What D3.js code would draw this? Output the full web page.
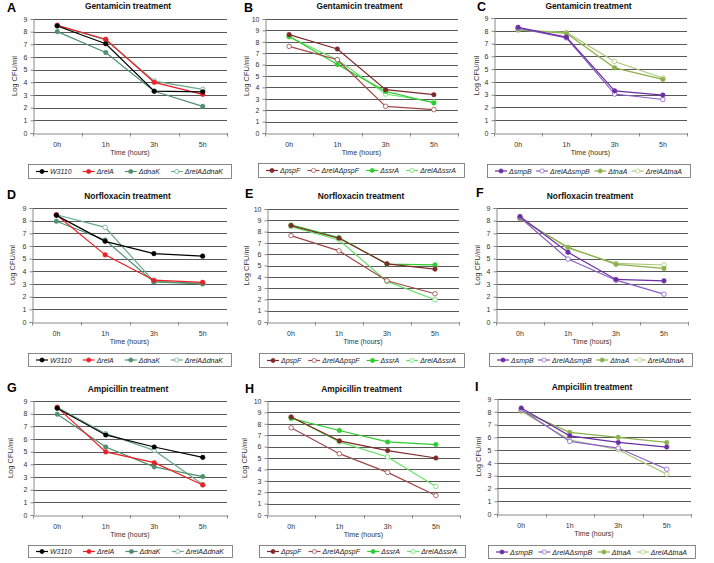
<!DOCTYPE html>
<html><head><meta charset="utf-8">
<script src="https://cdn.jsdelivr.net/npm/d3@7"></script>
<style>
body{margin:0;background:#fff;}
svg{display:block;font-family:"Liberation Sans",Arial,sans-serif;}
</style></head>
<body>
<script>
// ---------- data ----------
const timeLabels = ["0h", "1h", "3h", "5h"];
const panelLetters = ["A","B","C","D","E","F","G","H","I"];
const panelTitles = ["Gentamicin treatment","Gentamicin treatment","Gentamicin treatment",
  "Norfloxacin treatment","Norfloxacin treatment","Norfloxacin treatment",
  "Ampicillin treatment","Ampicillin treatment","Ampicillin treatment"];
const yMaxes = [9, 10, 9, 9, 10, 9, 9, 10, 9];

const strainsCol1 = ["W3110", "ΔrelA", "ΔdnaK", "ΔrelAΔdnaK"];
const strainsCol2 = ["ΔpspF", "ΔrelAΔpspF", "ΔssrA", "ΔrelAΔssrA"];
const strainsCol3 = ["ΔsmpB", "ΔrelAΔsmpB", "ΔtnaA", "ΔrelAΔtnaA"];

const colorsCol1 = ["#000000", "#ee1c24", "#4f9070", "#6aa98a"];
const colorsCol2 = ["#7f2a2a", "#a04848", "#2ecc2e", "#66e066"];
const colorsCol3 = ["#6a2fa3", "#8a5cc6", "#8cb04c", "#a9c97a"];
const hollowCol1 = [false, false, false, true];
const hollowCol2 = [false, true, false, true];
const hollowCol3 = [false, true, false, true];

// values per panel: one row per strain, columns = 0h,1h,3h,5h (log CFU/ml)
const valuesA = [[8.45,7.05,3.3,3.25],[8.5,7.4,4.0,3.05],[8.0,6.35,3.3,2.1],[8.5,7.35,4.1,3.45]];
const valuesB = [[8.63,7.37,3.8,3.36],[7.6,6.43,2.34,2.05],[8.48,6.0,3.65,2.63],[8.42,6.43,3.42,2.72]];
const valuesC = [[8.27,7.5,3.3,2.97],[8.2,7.45,3.05,2.62],[8.08,7.8,5.1,4.2],[8.05,7.87,5.6,4.3]];
const valuesD = [[8.42,6.37,5.4,5.2],[8.47,5.3,3.3,3.13],[7.95,6.47,3.16,3.0],[8.47,7.47,3.2,3.05]];
const valuesE = [[8.53,7.41,5.15,4.68],[7.65,6.29,3.65,2.5],[8.59,7.47,5.12,5.06],[8.44,7.26,3.59,1.97]];
const valuesF = [[8.33,5.5,3.36,3.25],[8.25,4.97,3.3,2.2],[8.15,5.9,4.55,4.23],[8.2,5.82,4.63,4.5]];
const valuesG = [[8.42,6.32,5.37,4.55],[8.5,4.98,4.13,2.37],[7.95,5.37,3.8,3.03],[8.5,6.42,5.1,2.4]];
const valuesH = [[8.59,6.5,5.65,5.0],[7.65,5.38,3.74,1.71],[8.47,7.41,6.41,6.18],[8.59,6.41,5.09,2.5]];
const valuesI = [[8.29,6.12,5.6,5.24],[8.17,5.68,5.16,3.5],[8.09,6.39,6.0,5.6],[8.04,5.81,5.03,3.12]];
const panelValues = [valuesA,valuesB,valuesC,valuesD,valuesE,valuesF,valuesG,valuesH,valuesI];

// ---------- layout (pixel positions only) ----------
const plotBoxes = [
  {x0:33,x1:227,y0:19,y1:133},{x0:265,x1:458,y0:19,y1:133},{x0:494,x1:687,y0:18,y1:133},
  {x0:32,x1:227,y0:208,y1:322},{x0:267,x1:459,y0:209,y1:322},{x0:496,x1:688,y0:208,y1:322},
  {x0:33,x1:227,y0:401,y1:515},{x0:267,x1:460,y0:401,y1:515},{x0:497,x1:691,y0:399,y1:514}];
const legendBoxes = [
  {x0:28,x1:231,y0:164,y1:178},{x0:258,x1:464,y0:163,y1:177},{x0:487,x1:690,y0:164,y1:177},
  {x0:28,x1:231,y0:353,y1:366},{x0:259,x1:464,y0:353,y1:367},{x0:489,x1:692,y0:353,y1:366},
  {x0:28,x1:232,y0:545,y1:557},{x0:259,x1:465,y0:545,y1:557},{x0:488,x1:695,y0:545,y1:558}];
const letterPos = [[7,12],[244,12],[477,11],[7,198.5],[245,198],[476,197],[7,392],[245,393],[475,391]];
const titleBase = [8.5,8.5,8.5,198.5,198.5,198.5,392,392,389.5];
const yLabelX = [15,247,477,13,247,478,11,245,479];

const svg = d3.select("body").append("svg").attr("width",714).attr("height",563);
svg.append("rect").attr("width",714).attr("height",563).attr("fill","#fff");

panelValues.forEach((vals, i) => {
  const col = i % 3;
  const strains = [strainsCol1, strainsCol2, strainsCol3][col];
  const colors = [colorsCol1, colorsCol2, colorsCol3][col];
  const hollow = [hollowCol1, hollowCol2, hollowCol3][col];
  const P = plotBoxes[i], Lb = legendBoxes[i];
  const yMax = yMaxes[i];
  const x = d3.scaleBand().domain(timeLabels).range([P.x0, P.x1]);
  const y = d3.scaleLinear().domain([0, yMax]).range([P.y1, P.y0]);
  const g = svg.append("g");

  // gridlines
  g.selectAll("line.grid").data(d3.range(1, yMax + 1)).join("line")
    .attr("x1", P.x0).attr("x2", P.x1)
    .attr("y1", d => Math.round(y(d)) + 0.5).attr("y2", d => Math.round(y(d)) + 0.5)
    .attr("stroke", "#585858").attr("stroke-width", 1.1);

  // y axis
  const ya = g.append("g").attr("transform", `translate(${P.x0 + 0.5},0)`)
    .call(d3.axisLeft(y).ticks(yMax).tickSize(3).tickPadding(3).tickFormat(d3.format("d")));
  // x axis
  const xa = g.append("g").attr("transform", `translate(0,${P.y1 + 0.5})`)
    .call(d3.axisBottom(x).tickSize(0).tickPadding(9));
  [ya, xa].forEach(a => {
    a.select(".domain").attr("stroke", "#8a8a8a");
    a.selectAll(".tick line").attr("stroke", "#8a8a8a");
    a.selectAll("text").attr("fill", "#333").style("font-size", "7px")
      .style("font-family", "Liberation Sans, Arial, sans-serif");
  });
  // x boundary ticks
  g.selectAll("line.xb").data(timeLabels.map(d => x(d)).concat([P.x1])).join("line")
    .attr("x1", d => Math.round(d) + 0.5).attr("x2", d => Math.round(d) + 0.5)
    .attr("y1", P.y1).attr("y2", P.y1 + 3.5).attr("stroke", "#8a8a8a");

  // axis titles
  g.append("text").attr("x", (P.x0 + P.x1) / 2).attr("y", P.y1 + 22)
    .attr("text-anchor", "middle").attr("fill", "#333").style("font-size", "7px").text("Time (hours)");
  g.append("text").attr("transform", `translate(${yLabelX[i]},${(P.y0 + P.y1) / 2}) rotate(-90)`)
    .attr("text-anchor", "middle").attr("dominant-baseline", "middle")
    .attr("fill", "#333").style("font-size", "7.5px").text("Log CFU/ml");

  // title & letter
  g.append("text").attr("x", (P.x0 + P.x1) / 2 - 2).attr("y", titleBase[i])
    .attr("text-anchor", "middle").attr("font-weight", "bold").attr("fill", "#111")
    .style("font-size", "8.4px").text(panelTitles[i]);
  g.append("text").attr("x", letterPos[i][0]).attr("y", letterPos[i][1])
    .attr("font-weight", "bold").attr("fill", "#000").style("font-size", "12.5px").text(panelLetters[i]);

  // series (drawn last-to-first so filled markers sit on top)
  const line = d3.line().x((d, k) => x(timeLabels[k]) + x.bandwidth() / 2).y(d => y(d));
  d3.range(vals.length).reverse().forEach(si => {
    const s = vals[si];
    g.append("path").attr("d", line(s)).attr("fill", "none")
      .attr("stroke", colors[si]).attr("stroke-width", 1.2);
    g.selectAll(null).data(s).join("circle")
      .attr("cx", (d, k) => x(timeLabels[k]) + x.bandwidth() / 2).attr("cy", d => y(d))
      .attr("r", 2.3)
      .attr("fill", hollow[si] ? "#fff" : colors[si])
      .attr("stroke", colors[si]).attr("stroke-width", hollow[si] ? 0.8 : 0.5);
  });

  // legend
  g.append("rect").attr("x", Lb.x0 + 0.5).attr("y", Lb.y0 + 0.5)
    .attr("width", Lb.x1 - Lb.x0).attr("height", Lb.y1 - Lb.y0)
    .attr("fill", "#fff").attr("stroke", "#6a6a6a").attr("stroke-width", 0.8);
  const items = strains.map((name, si) => {
    const it = g.append("g");
    it.append("line").attr("x1", 0).attr("x2", 12).attr("y1", 0).attr("y2", 0)
      .attr("stroke", colors[si]).attr("stroke-width", 1.2);
    it.append("circle").attr("cx", 6).attr("cy", 0).attr("r", 2.1)
      .attr("fill", hollow[si] ? "#fff" : colors[si]).attr("stroke", colors[si]).attr("stroke-width", 0.7);
    const t = it.append("text").attr("x", 14).attr("y", 0).attr("dominant-baseline", "central")
      .attr("font-style", "italic").attr("fill", "#222").style("font-size", "7px").text(name);
    return {it, w: 14 + t.node().getComputedTextLength()};
  });
  const total = d3.sum(items, d => d.w);
  const pad = 8;
  const gap = ((Lb.x1 - Lb.x0) - 2 * pad - total) / (items.length - 1);
  let cx = Lb.x0 + pad;
  const cy = (Lb.y0 + Lb.y1) / 2 + 0.5;
  items.forEach(d => { d.it.attr("transform", `translate(${cx},${cy})`); cx += d.w + gap; });
});
</script>
</body></html>
